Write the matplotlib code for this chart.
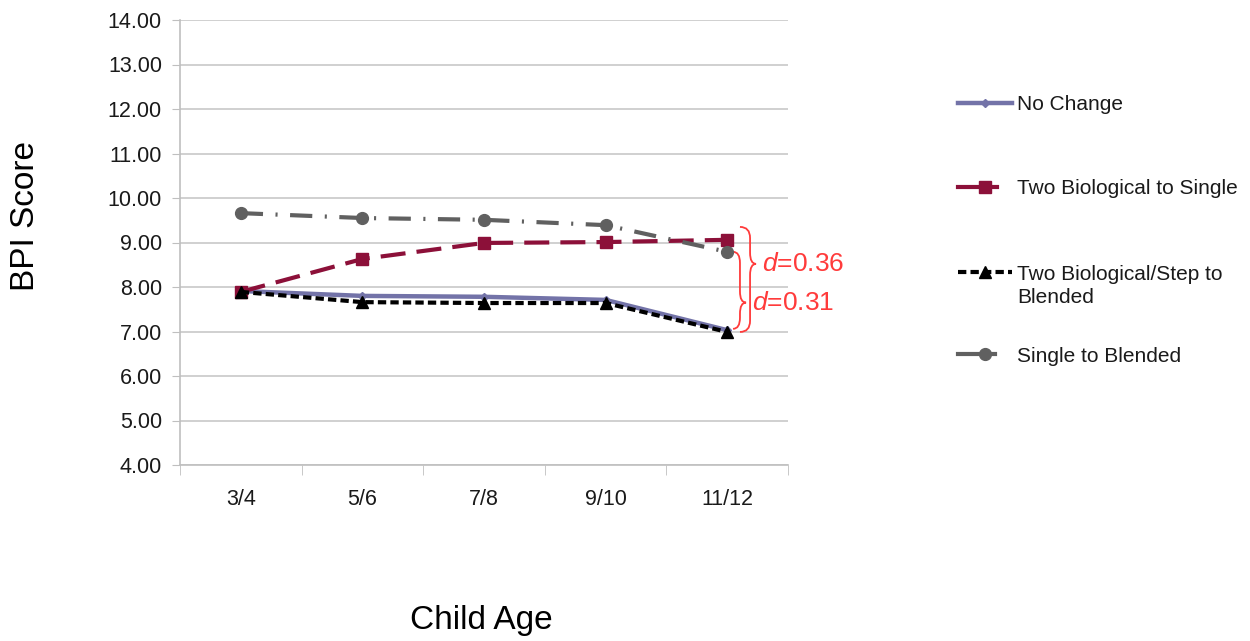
import matplotlib
matplotlib.use('Agg')
import matplotlib.pyplot as plt
from matplotlib.lines import Line2D
from matplotlib.path import Path
from matplotlib.patches import PathPatch

plt.rcParams['font.family'] = ['Liberation Sans', 'DejaVu Sans']
plt.rcParams['mathtext.fontset'] = 'custom'
plt.rcParams['mathtext.it'] = 'Liberation Sans:italic'
plt.rcParams['mathtext.rm'] = 'Liberation Sans'
plt.rcParams['lines.scale_dashes'] = False

# data
ages = ['3/4', '5/6', '7/8', '9/10', '11/12']
no_change = [7.91, 7.80, 7.78, 7.71, 7.03]
two_bio_single = [7.89, 8.63, 8.99, 9.01, 9.06]
two_bio_step_blended = [7.89, 7.66, 7.64, 7.64, 6.99]
single_blended = [9.66, 9.55, 9.51, 9.39, 8.79]
effects = ['0.36', '0.31']

W, H = 1250, 641
fig = plt.figure(figsize=(W / 100, H / 100), dpi=100)
ax = fig.add_axes([180 / W, 1 - 465 / H, 608 / W, 445 / H])

x = list(range(len(ages)))

styles = [
    dict(label='No Change', color='#7373A8', ls='-', marker='D', ms=4, lw=3.2),
    dict(label='Two Biological to Single', color='#8C1039', dashes=(18, 8), marker='s', ms=8.5, lw=3),
    dict(label='Two Biological/Step to\nBlended', color='black', dashes=(6, 3), marker='^', ms=8.5, lw=3),
    dict(label='Single to Blended', color='#606060', dashes=(16, 9, 1.5, 9), marker='o', ms=8.5, lw=3),
]
series = [no_change, two_bio_single, two_bio_step_blended, single_blended]

for vals, st in zip(series, styles):
    kw = dict(color=st['color'], marker=st['marker'], markersize=st['ms'], lw=st['lw'])
    if 'dashes' in st:
        kw['dashes'] = st['dashes']
    else:
        kw['ls'] = st['ls']
    ax.plot(x, vals, **kw)

ax.set_xlim(-0.5, len(ages) - 0.5)
ax.set_ylim(4, 14)
ax.set_yticks(range(4, 15))
ax.set_yticklabels(['%.2f' % v for v in range(4, 15)])
ax.set_xticks(x)
ax.set_xticklabels(ages)
ax.set_xticks([i - 0.5 for i in range(len(ages) + 1)], minor=True)
ax.tick_params(axis='x', which='major', length=0, pad=17, labelsize=15.5, labelcolor='#1a1a1a')
ax.tick_params(axis='x', which='minor', length=7, color='#BFBFBF', direction='out')
ax.tick_params(axis='y', length=6, color='#BFBFBF', pad=7, labelsize=15.5, labelcolor='#1a1a1a')
ax.grid(axis='y', color='#C8C8C8', lw=1.2)
ax.set_axisbelow(True)
for s in ['top', 'right']:
    ax.spines[s].set_visible(False)
for s in ['left', 'bottom']:
    ax.spines[s].set_color('#BFBFBF')
    ax.spines[s].set_linewidth(1.2)

fig.text(26 / W, 1 - 216 / H, 'BPI Score', rotation=90, fontsize=24, ha='center', va='center')
fig.text(481 / W, 1 - 621 / H, 'Child Age', fontsize=24, ha='center', va='center')


# curly braces for the effect sizes: ends at xe, spine at xm, tip at xt
def brace(xe, xm, xt, ytop, ybot, ytip, color='#FF3B3B'):
    r = 0.25
    verts = [(xe, ytop), (xm, ytop), (xm, ytop - r),
             (xm, ytip + r), (xm, ytip), (xt, ytip),
             (xm, ytip), (xm, ytip - r),
             (xm, ybot + r), (xm, ybot), (xe, ybot)]
    codes = [Path.MOVETO, Path.CURVE3, Path.CURVE3,
             Path.LINETO, Path.CURVE3, Path.CURVE3,
             Path.CURVE3, Path.CURVE3,
             Path.LINETO, Path.CURVE3, Path.CURVE3]
    ax.add_patch(PathPatch(Path(verts, codes), fc='none', ec=color, lw=1.3, clip_on=False))


brace(4.105, 4.188, 4.237, 9.35, 6.99, 8.52)
brace(4.048, 4.105, 4.155, 8.79, 7.06, 7.65)
ax.text(4.29, 8.52, r'$d$=' + effects[0], color='#FF3B3B', fontsize=19, va='center', ha='left')
ax.text(4.20, 7.65, r'$d$=' + effects[1], color='#FF3B3B', fontsize=19, va='center', ha='left')

# legend drawn by hand to follow the original spacing
rows = [103, 187, 272, 354]
ends = [1012, 997, 1012, 995]
for st, y, xe in zip(styles, rows, ends):
    yf = 1 - y / H
    kw = dict(color=st['color'], lw=st['lw'])
    if st['marker'] == '^':
        kw['dashes'] = (6, 3)
    line = Line2D([958 / W, xe / W], [yf, yf], transform=fig.transFigure, **kw)
    fig.add_artist(line)
    mk = Line2D([985 / W], [yf], transform=fig.transFigure, color=st['color'],
                marker=st['marker'], markersize=st['ms'], ls='none')
    fig.add_artist(mk)
    two_line = '\n' in st['label']
    ty = 1 - (272 - 7) / H if two_line else 1 - (y + 2) / H
    fig.text(1017 / W, ty, st['label'], fontsize=15, va='top' if two_line else 'center',
             ha='left', color='#1a1a1a', linespacing=1.3)

fig.savefig('out.png', dpi=100)
